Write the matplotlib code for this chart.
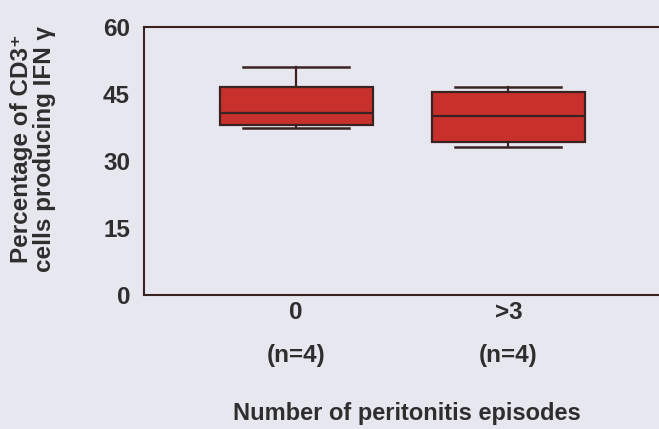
import matplotlib.pyplot as plt

# box statistics
groups = ["0\n(n=4)", ">3\n(n=4)"]
whislo = [37.5, 33.1]
q1 = [38.1, 34.2]
med = [40.7, 40.2]
q3 = [46.5, 45.5]
whishi = [51.0, 46.5]
yticks = [0, 15, 30, 45, 60]

bg = "#e7e7ef"
txt = "#2e2e2e"
edge = "#3a2222"

plt.rcParams['font.family'] = ['Liberation Sans', 'DejaVu Sans']
plt.rcParams['font.weight'] = 'bold'
plt.rcParams['axes.labelweight'] = 'bold'

fig = plt.figure(figsize=(6.59, 4.29), dpi=100, facecolor=bg)
ax = fig.add_axes([0.2185, 0.312, 0.7815, 0.625], facecolor=bg)

stats = []
for i in range(len(groups)):
    stats.append(dict(whislo=whislo[i], q1=q1[i], med=med[i], q3=q3[i],
                      whishi=whishi[i], fliers=[]))

ax.bxp(stats, positions=[1, 2], widths=0.72, capwidths=0.5, patch_artist=True,
       showfliers=False,
       boxprops=dict(facecolor="#c8302c", edgecolor=edge, linewidth=1.6),
       medianprops=dict(color=edge, linewidth=1.6),
       whiskerprops=dict(color=edge, linewidth=1.6),
       capprops=dict(color=edge, linewidth=1.8))

ax.set_xlim(0.283, 2.71)
ax.set_ylim(0, 60)
ax.set_yticks(yticks)
ax.set_xticks([1, 2])
ax.set_xticklabels(groups, linespacing=2.1)
ax.tick_params(length=0, labelsize=17.5, colors=txt)
ax.tick_params(axis='y', pad=10)
ax.tick_params(axis='x', pad=4)

for s in ['left', 'top', 'bottom']:
    ax.spines[s].set_color(edge)
    ax.spines[s].set_linewidth(1.5)
ax.spines['right'].set_visible(False)

ax.set_ylabel("Percentage of CD3\u207a\ncells producing IFN \u03b3", fontsize=17.5,
              color=txt, linespacing=1.0)
ax.yaxis.set_label_coords(-0.17, 0.545)
fig.text(0.618, 0.02, "Number of peritonitis episodes", ha='center',
         fontsize=17, fontweight='bold', color=txt)

fig.savefig("out.png", dpi=100, facecolor=bg)
